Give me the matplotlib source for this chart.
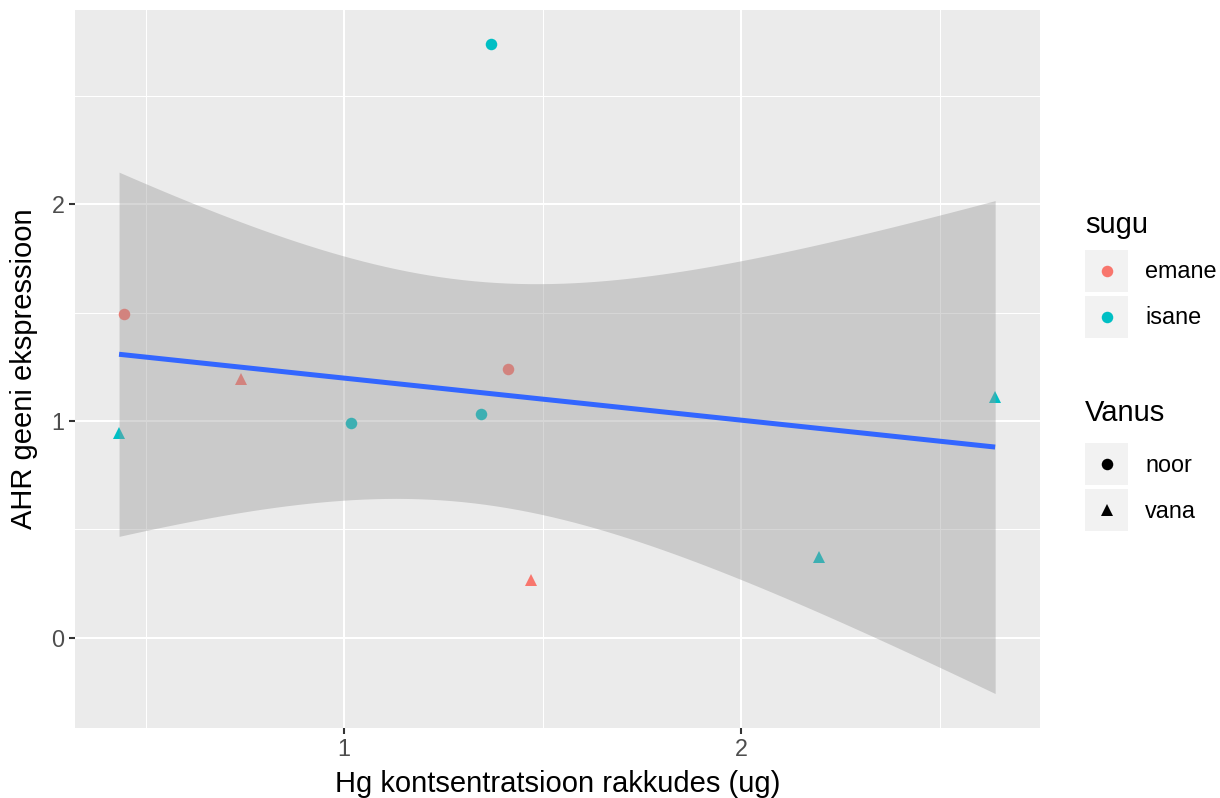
import numpy as np
import matplotlib

matplotlib.use("Agg")
import matplotlib.pyplot as plt
from matplotlib.patches import Rectangle
from matplotlib.lines import Line2D

plt.rcParams["font.family"] = ["Liberation Sans", "DejaVu Sans"]

# data
hg = [0.446, 0.433, 0.741, 1.018, 1.345, 1.413, 1.370, 1.471, 2.196, 2.640]
ahr = [1.494, 0.943, 1.195, 0.989, 1.030, 1.241, 2.736, 0.267, 0.372, 1.112]
sugu = ["emane", "isane", "emane", "isane", "isane", "emane", "isane", "emane", "isane", "isane"]
vanus = ["noor", "vana", "vana", "noor", "noor", "noor", "noor", "vana", "vana", "vana"]

sugu_levels = ["emane", "isane"]
vanus_levels = ["noor", "vana"]
sugu_colors = {"emane": "#F8766D", "isane": "#00BFC4"}
vanus_markers = {"noor": "o", "vana": "^"}
T_975_DF8 = 2.306

W, H = 1220, 798
fig = plt.figure(figsize=(W / 100, H / 100), dpi=100)
ax = fig.add_axes([75 / W, 1 - 728 / H, (1040 - 75) / W, (728 - 10) / H])
ax.set_facecolor("#EBEBEB")
for s in ax.spines.values():
    s.set_visible(False)

x = np.array(hg)
y = np.array(ahr)

# points first, smoother drawn on top (as in ggplot layer order)
for xi, yi, sg, vn in zip(x, y, sugu, vanus):
    ax.plot(xi, yi, linestyle="none", marker=vanus_markers[vn], color=sugu_colors[sg],
            markersize=9 if vn == "vana" else 8.3, markeredgewidth=0, zorder=3)

# linear fit with 95% confidence band
n = len(x)
slope, intercept = np.polyfit(x, y, 1)
resid = y - (intercept + slope * x)
s_err = np.sqrt(np.sum(resid ** 2) / (n - 2))
sxx = np.sum((x - x.mean()) ** 2)
xs = np.linspace(x.min(), x.max(), 80)
fit = intercept + slope * xs
half = T_975_DF8 * s_err * np.sqrt(1 / n + (xs - x.mean()) ** 2 / sxx)
ax.fill_between(xs, fit - half, fit + half, color="#999999", alpha=0.4, linewidth=0, zorder=4)
ax.plot(xs, fit, color="#3366FF", linewidth=3.6, zorder=5, solid_capstyle="butt")

ax.set_xlim(0.322, 2.753)
ax.set_ylim(-0.416, 2.895)
ax.set_xticks([1, 2])
ax.set_yticks([0, 1, 2])
ax.set_xticks([0.5, 1.5, 2.5], minor=True)
ax.set_yticks([0.5, 1.5, 2.5], minor=True)
ax.grid(which="major", color="white", linewidth=1.5, zorder=0)
ax.grid(which="minor", color="white", linewidth=0.75, zorder=0)
ax.set_axisbelow(True)
ax.tick_params(which="major", length=4.5, width=1.5, color="#333333", labelcolor="#4D4D4D",
               labelsize=16.8, pad=3)
ax.tick_params(which="minor", length=0)

ax.set_xlabel("Hg kontsentratsioon rakkudes (ug)", fontsize=21, labelpad=6)
ax.set_ylabel("AHR geeni ekspressioon", fontsize=21, labelpad=10)

# legends drawn in figure pixel space
def px(xp, yp):
    return xp / W, 1 - yp / H

def legend_block(title, title_y, labels, styles, key_top):
    fig.text(*px(1085, title_y), title, fontsize=21, va="center", ha="left")
    for i, (lab, (col, mk)) in enumerate(zip(labels, styles)):
        top = key_top + i * 46
        x0, y0 = px(1085, top + 42)
        fig.patches.append(Rectangle((x0, y0), 43 / W, 42 / H, transform=fig.transFigure,
                                     facecolor="#F2F2F2", edgecolor="none"))
        cx, cy = px(1106.5, top + 21)
        fig.lines.append(Line2D([cx], [cy], transform=fig.transFigure, marker=mk, color=col,
                                markersize=8.3 if mk == "o" else 9, markeredgewidth=0, linestyle="none"))
        fig.text(*px(1145, top + 22), lab, fontsize=16.8, va="center", ha="left")

legend_block("sugu", 225, sugu_levels, [(sugu_colors[s], "o") for s in sugu_levels], 250)
legend_block("Vanus", 413, vanus_levels, [("black", vanus_markers[v]) for v in vanus_levels], 443)

fig.savefig("out.png", dpi=100)
